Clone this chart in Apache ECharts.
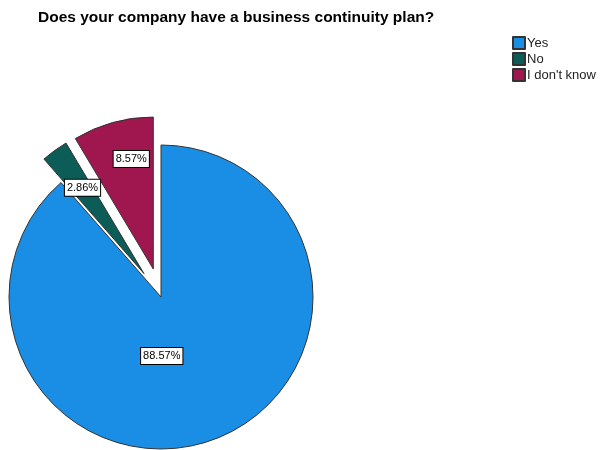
<!DOCTYPE html>
<html>
<head>
<meta charset="utf-8">
<script src="https://cdn.jsdelivr.net/npm/echarts@6/dist/echarts.min.js"></script>
<style>
  html, body { margin: 0; padding: 0; background: #fff; }
  #chart { width: 601px; height: 450px; }
</style>
</head>
<body>
<div id="chart"></div>
<script>
// Survey answers (respondent counts) and their displayed percentages
const categories = ['Yes', 'No', "I don't know"];
const counts = [31, 1, 3];
const percentLabels = ['88.57%', '2.86%', '8.57%'];
const explodedSlices = [false, true, true];

const sliceColors = ['#1A8EE5', '#0C5C58', '#A0174F'];
// label nudges relative to the default inside position
const labelShift = [[-27, -15], [-15, -22], [-1, -34]];

const chart = echarts.init(document.getElementById('chart'), null, { renderer: 'canvas' });

chart.setOption({
  animation: false,
  backgroundColor: '#ffffff',
  title: {
    text: 'Does your company have a business continuity plan?',
    left: 33,
    top: 5,
    textStyle: {
      fontFamily: 'Liberation Sans, Arial, sans-serif',
      fontSize: 15.5,
      fontWeight: 'bold',
      color: '#000000'
    }
  },
  legend: {
    orient: 'vertical',
    left: 507,
    top: 31,
    itemWidth: 12,
    itemHeight: 12,
    itemGap: 2,
    icon: 'rect',
    selectedMode: false,
    data: categories,
    textStyle: {
      fontFamily: 'Liberation Sans, Arial, sans-serif',
      fontSize: 13,
      color: '#222222',
      padding: [0, 0, 0, -3]
    }
  },
  series: [{
    type: 'pie',
    center: [161, 297],
    radius: [0, 152],
    startAngle: 90,
    clockwise: true,
    selectedMode: 'multiple',
    selectedOffset: 29,
    avoidLabelOverlap: false,
    emphasis: { disabled: true },
    itemStyle: { borderColor: '#333333', borderWidth: 1 },
    label: {
      show: true,
      position: 'inside',
      formatter: (p) => percentLabels[p.dataIndex],
      fontFamily: 'Liberation Sans, Arial, sans-serif',
      fontSize: 11,
      color: '#000000',
      backgroundColor: '#ffffff',
      borderColor: '#000000',
      borderWidth: 1,
      padding: [3, 2, 2, 2]
    },
    labelLine: { show: false },
    labelLayout: (params) => ({
      dx: labelShift[params.dataIndex][0],
      dy: labelShift[params.dataIndex][1]
    }),
    data: categories.map((name, i) => ({
      name: name,
      value: counts[i],
      selected: explodedSlices[i],
      itemStyle: { color: sliceColors[i] }
    }))
  }]
});
</script>
</body>
</html>
